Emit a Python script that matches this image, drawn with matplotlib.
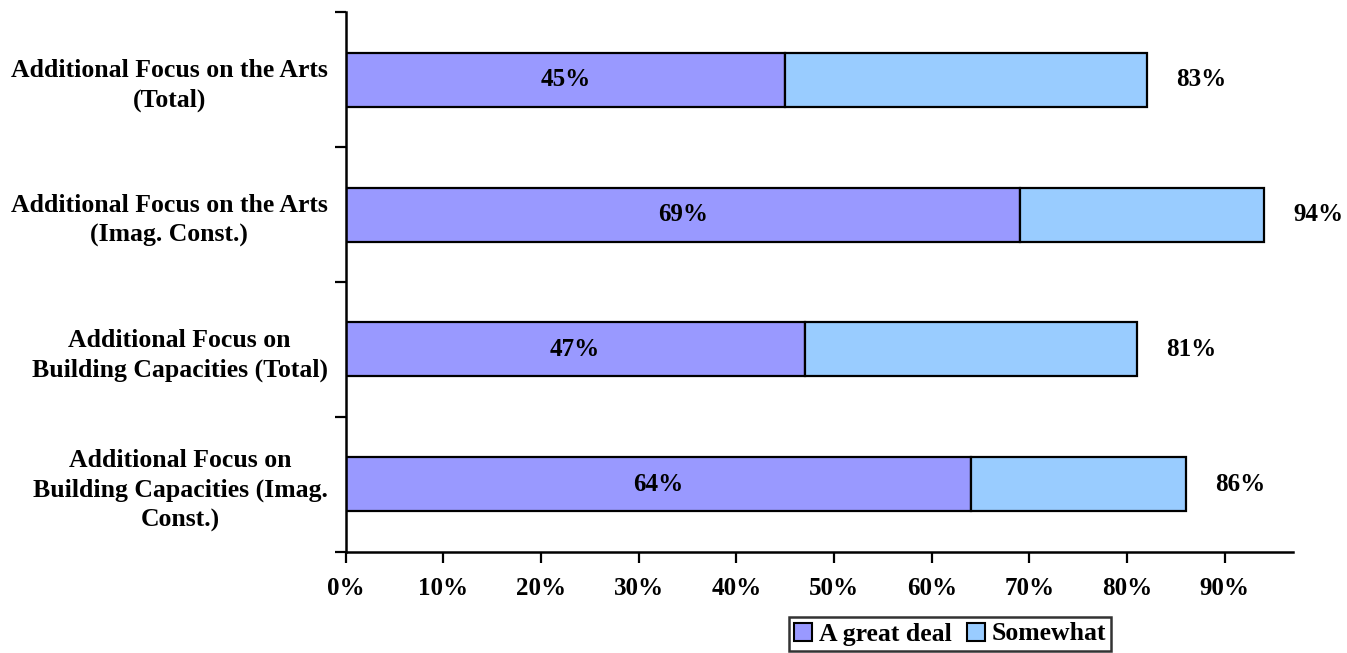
import matplotlib
matplotlib.use("Agg")
import matplotlib.pyplot as plt
from matplotlib.ticker import FixedLocator, PercentFormatter
from matplotlib.patches import Patch

# data
categories = [
    "Additional Focus on the Arts\n(Total)",
    "Additional Focus on the Arts\n(Imag. Const.)",
    "Additional Focus on\nBuilding Capacities (Total)",
    "Additional Focus on\nBuilding Capacities (Imag.\nConst.)",
]
great_deal = [45, 69, 47, 64]
somewhat = [37, 25, 34, 22]
total_labels = [83, 94, 81, 86]

series_names = ["A great deal", "Somewhat"]
colors = ["#9999FF", "#99CCFF"]

plt.rcParams["font.family"] = ["Liberation Serif", "DejaVu Serif"]
plt.rcParams["font.weight"] = "bold"

fig = plt.figure(figsize=(13.47, 6.53), dpi=100)
ax = fig.add_axes([0.2566, 0.1547, 0.9600 - 0.2566, 0.9816 - 0.1547])

y = list(range(len(categories)))
ax.barh(y, great_deal, height=0.4, color=colors[0], edgecolor="black", linewidth=1.6)
ax.barh(y, somewhat, left=great_deal, height=0.4, color=colors[1],
        edgecolor="black", linewidth=1.6)

# value labels
for i in y:
    ax.text(great_deal[i] / 2, i, f"{great_deal[i]}%", ha="center", va="center",
            fontsize=18, fontweight="bold")
    end = great_deal[i] + somewhat[i]
    ax.text(end + 5.6, i, f"{total_labels[i]}%", ha="center", va="center",
            fontsize=18, fontweight="bold")

ax.set_xlim(0, 97)
ax.set_ylim(len(categories) - 0.5, -0.5)

ax.set_xticks(range(0, 100, 10))
ax.xaxis.set_major_formatter(PercentFormatter(decimals=0))
ax.set_yticks(y)
ax.set_yticklabels(categories, ma="center", linespacing=1.35)
ax.yaxis.set_minor_locator(FixedLocator([k - 0.5 for k in range(len(categories) + 1)]))

ax.tick_params(axis="y", which="major", length=0, pad=13, labelsize=18.5)
ax.tick_params(axis="y", which="minor", length=8, width=1.6, direction="out")
ax.tick_params(axis="x", length=8, width=1.6, direction="out", pad=10, labelsize=18)
for lab in ax.get_xticklabels() + ax.get_yticklabels():
    lab.set_fontweight("bold")

for side in ["top", "right"]:
    ax.spines[side].set_visible(False)
for side in ["left", "bottom"]:
    ax.spines[side].set_linewidth(1.8)

handles = [Patch(facecolor=c, edgecolor="black", linewidth=1.5) for c in colors]
leg = fig.legend(handles, series_names, loc="center",
                 bbox_to_anchor=(950 / 1347, 1 - 634 / 653), ncol=2,
                 fancybox=False, frameon=True, fontsize=18.5,
                 handlelength=0.7, handleheight=0.7, handletextpad=0.25,
                 columnspacing=0.6, borderpad=0.2, borderaxespad=0)
leg.get_frame().set_edgecolor("black")
leg.get_frame().set_linewidth(1.8)
for t in leg.get_texts():
    t.set_fontweight("bold")

fig.savefig("out.png", dpi=100)
